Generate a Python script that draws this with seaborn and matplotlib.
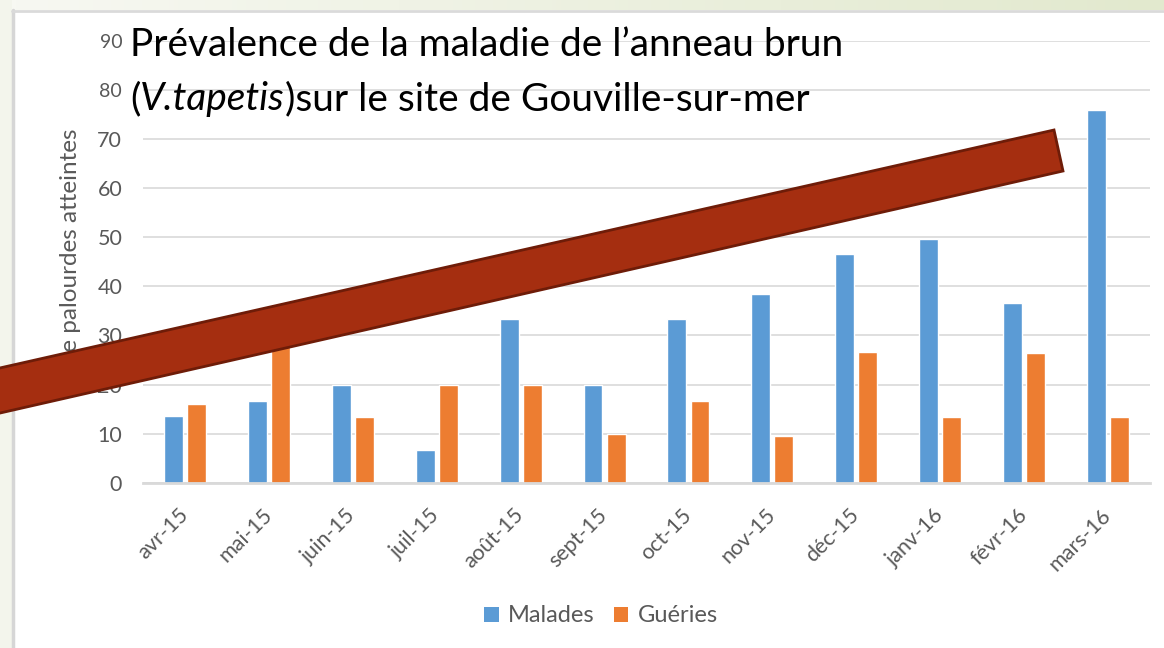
import matplotlib
matplotlib.use('Agg')
import matplotlib.pyplot as plt
import seaborn as sns
import pandas as pd
import numpy as np
from matplotlib.patches import Polygon, Rectangle
from matplotlib.lines import Line2D
from matplotlib.colors import LinearSegmentedColormap

# ---- data ----
mois = ['avr-15', 'mai-15', 'juin-15', 'juil-15', 'août-15', 'sept-15',
        'oct-15', 'nov-15', 'déc-15', 'janv-16', 'févr-16', 'mars-16']
malades = [13.5, 16.7, 20.0, 6.7, 33.3, 20.0, 33.3, 38.5, 46.7, 49.6, 36.7, 76.0]
gueries = [16.1, 36.5, 13.3, 20.0, 20.0, 10.0, 16.7, 9.6, 26.7, 13.3, 26.4, 13.3]
series = ['Malades', 'Guéries']
colors = ['#5B9BD5', '#ED7D31']
yticks = [0, 10, 20, 30, 40, 50, 60, 70, 80, 90]
title1 = "Prévalence de la maladie de l’anneau brun"
title2 = ["(", "V.tapetis", ")sur le site de Gouville-sur-mer"]
ylabel = "% de palourdes atteintes"

df = pd.DataFrame({
    'mois': mois * 2,
    'valeur': malades + gueries,
    'serie': [series[0]] * len(mois) + [series[1]] * len(mois),
})

W, H = 1164, 648
sns.set_theme(style='white')
plt.rcParams['font.family'] = ['Lato', 'DejaVu Sans']

fig = plt.figure(figsize=(W / 100, H / 100), dpi=100)
fig.patch.set_facecolor('white')

# slide frame
fig.add_artist(Rectangle((0, 0), 12 / W, 1, transform=fig.transFigure,
                         facecolor='#F3F5EC', edgecolor='none', zorder=0))
gax = fig.add_axes([12 / W, 1 - 10 / H, 1 - 12 / W, 10 / H], zorder=0)
grad = np.linspace(0, 1, 256)[None, :]
cm = LinearSegmentedColormap.from_list('g', ['#F7F8F2', '#E2E9CE'])
gax.imshow(grad, aspect='auto', cmap=cm)
gax.axis('off')
fig.add_artist(Line2D([12.5 / W, 12.5 / W], [0, 1 - 10 / H], transform=fig.transFigure,
                      color='#D6D6D6', lw=2.5, zorder=1))
fig.add_artist(Line2D([12 / W, 1], [1 - 11 / H, 1 - 11 / H], transform=fig.transFigure,
                      color='#DADADA', lw=2, zorder=1))

ax = fig.add_axes([143 / W, 1 - 482.7 / H, (1150 - 143) / W, (482.7 - 41) / H])
sns.barplot(data=df, x='mois', y='valeur', hue='serie', palette=colors,
            width=0.55, gap=0.18, saturation=1, legend=False, ax=ax, errorbar=None)
ax.set_xlim(-0.5, len(mois) - 0.5)
ax.set_ylim(0, 90)
ax.set_yticks(yticks)
ax.yaxis.grid(True, color='#D9D9D9', lw=1.2)
ax.set_axisbelow(True)
for s in ['left', 'right', 'top']:
    ax.spines[s].set_visible(False)
ax.spines['bottom'].set_color('#D9D9D9')
ax.spines['bottom'].set_linewidth(2)
ax.set_xlabel('')
ax.set_ylabel(ylabel, fontsize=17.5, color='#595959')
ax.yaxis.set_label_coords(-0.062, 0.505)
ax.tick_params(axis='y', length=0, pad=15, labelsize=15.5, labelcolor='#595959')
ax.tick_params(axis='x', length=0, pad=21, labelsize=15.5, labelcolor='#595959')
for lab in ax.get_xticklabels():
    lab.set_rotation(45)
    lab.set_ha('right')
    lab.set_va('center')
    lab.set_rotation_mode('anchor')
for lab in ax.get_yticklabels()[-2:]:
    lab.set_fontsize(14)

# legend
handles = [Rectangle((0, 0), 1, 1, facecolor=c, edgecolor='none') for c in colors]
fig.legend(handles=handles, labels=series, loc='center',
           bbox_to_anchor=(601 / W, 1 - 616 / H), ncol=2, frameon=False,
           fontsize=17, labelcolor='#595959', handlelength=0.6, handleheight=0.6,
           handletextpad=0.38, columnspacing=0.85)

# title (two lines, second with italic part)
fs = 28
fig.text(130 / W, 1 - 56 / H, title1, fontsize=fs, color='black', va='baseline', zorder=5)
fig.canvas.draw()
renderer = fig.canvas.get_renderer()
x = 130.0
for i, piece in enumerate(title2):
    t = fig.text(x / W, 1 - 110 / H, piece, fontsize=fs, color='black', va='baseline',
                 style='italic' if i == 1 else 'normal', zorder=5)
    bb = t.get_window_extent(renderer=renderer)
    x += bb.width

# overlay arrow band
def P(xp, yp):
    return (xp / W, 1 - yp / H)
band = Polygon([P(-60, 381.5), P(1054, 130), P(1063, 171), P(-60, 426.7)], closed=True,
               transform=fig.transFigure, facecolor='#A52E10', edgecolor='#6E1C08',
               lw=2, zorder=10)
fig.add_artist(band)

fig.savefig('out.png', dpi=100)
